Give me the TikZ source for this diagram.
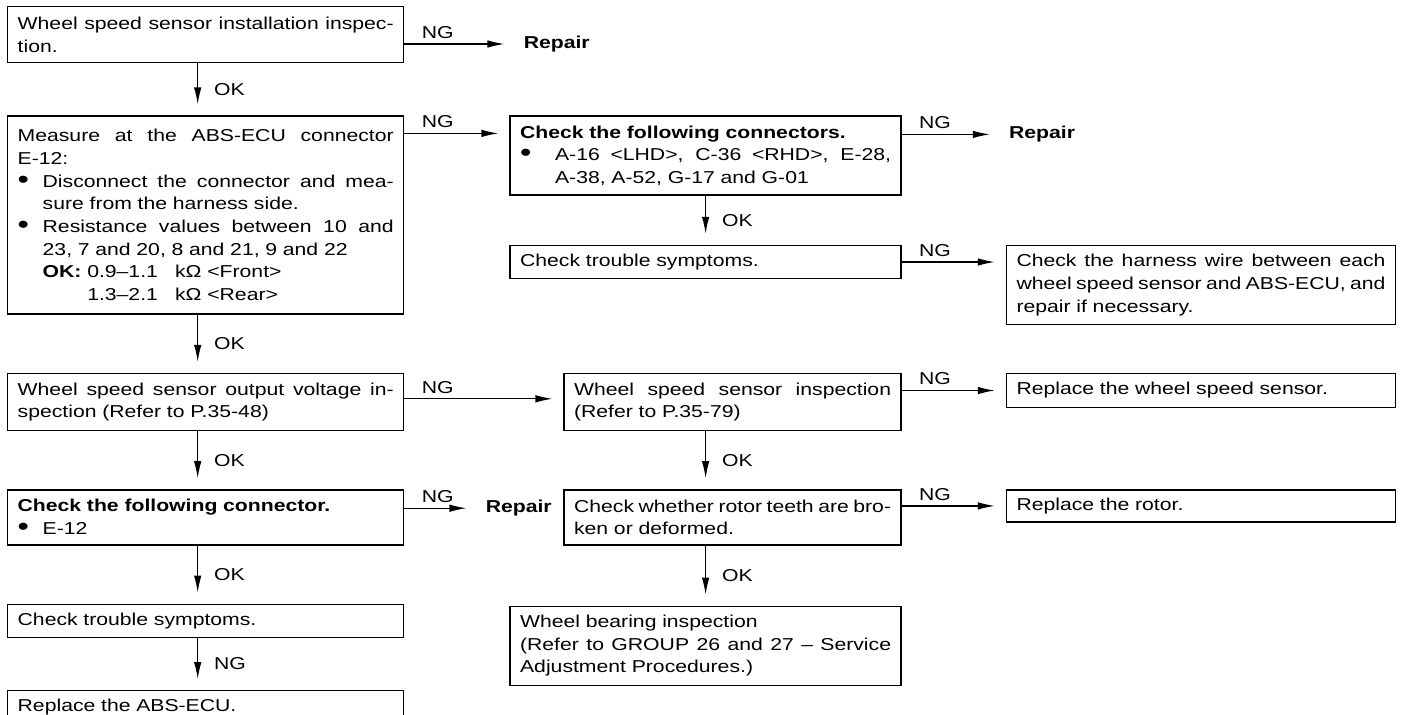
\documentclass[tikz,border=0pt]{standalone}
\usepackage{fontspec}
\setmainfont[FakeStretch=1.23]{Liberation Sans}
\usepackage{tikz}
\usetikzlibrary{arrows.meta, positioning}
\newlength{\bw}
\setlength{\bw}{0.5cm}
\newcommand{\js}{\spaceskip=\fontdimen2\font plus 1fil minus 0.5\fontdimen2\font\relax}
\newcommand{\jl}[1]{\makebox[\hsize][s]{\js #1}}
\newcommand{\bigdot}{\raisebox{-0.6pt}{\fontsize{15}{15}\selectfont\textbullet}}
\newcommand{\bj}[1]{\makebox[\bw][l]{\bigdot}\makebox[\dimexpr\hsize-\bw\relax][s]{\js #1}}
\newcommand{\bl}[1]{\makebox[\bw][l]{\bigdot}#1}

\begin{document}
\begin{tikzpicture}[
    >={Latex[length=3.4mm, width=1.5mm]},
    every node/.style={font=\fontsize{9.8}{12.9}\selectfont},
    box/.style={draw, line width=0.8pt, inner xsep=0.2cm, inner ysep=0pt, align=left},
    lbox/.style={box, text width=7.52cm},
    mbox/.style={box, text width=7.42cm},
    nbox/.style={box, text width=6.34cm},
    rbox/.style={box, text width=7.38cm},
    rep/.style={font=\fontsize{9.8}{12.9}\selectfont\bfseries, inner sep=0pt},
    arr/.style={->, line width=0.7pt, shorten >=0.22cm},
    ok/.style={right, xshift=0.2cm},
    ng/.style={anchor=south west, xshift=0.3cm, yshift=0.06cm, inner sep=1pt},
]
    \useasboundingbox (0,0) rectangle (28.12,-14.30);

    % Left column
    \node[lbox, minimum height=1.12cm, anchor=north west] (insp) at (0.14,-0.12)
        {\jl{Wheel speed sensor installation inspec-}\\tion.};
    \node[lbox, minimum height=3.96cm, below=1.04cm of insp] (meas)
        {\jl{Measure at the ABS-ECU connector}\\
         E-12:\\
         \bj{Disconnect the connector and mea-}\\
         \hspace*{\bw}sure from the harness side.\\
         \bj{Resistance values between 10 and}\\
         \hspace*{\bw}23, 7 and 20, 8 and 21, 9 and 22\\
         \hspace*{\bw}\textbf{OK:} 0.9--1.1\quad kΩ <Front>\\
         \hspace*{\bw}\phantom{\textbf{OK:} }1.3--2.1\quad kΩ <Rear>};
    \node[lbox, minimum height=1.14cm, below=1.16cm of meas] (volt)
        {\jl{Wheel speed sensor output voltage in-}\\spection (Refer to P.35-48)};
    \node[lbox, minimum height=1.10cm, below=1.16cm of volt] (chk)
        {\textbf{Check the following connector.}\\\bl{E-12}};
    \node[lbox, minimum height=0.66cm, below=1.16cm of chk] (sym) {Check trouble symptoms.};
    \node[lbox, minimum height=0.66cm, below=1.04cm of sym] (ecu) {Replace the ABS-ECU.};

    % Middle column
    \node[mbox, minimum height=1.58cm, right=2.10cm of meas.north east, anchor=north west] (conn)
        {\setlength{\bw}{0.7cm}\textbf{Check the following connectors.}\\
         \bj{A-16 <LHD>, C-36 <RHD>, E-28,}\\
         \hspace*{\bw}A-38, A-52, G-17 and G-01};
    \node[mbox, minimum height=0.66cm, below=0.98cm of conn] (sym2) {Check trouble symptoms.};
    \node[nbox, minimum height=1.14cm, right=3.18cm of volt.north east, anchor=north west] (sens)
        {\jl{Wheel speed sensor inspection}\\(Refer to P.35-79)};
    \node[nbox, minimum height=1.10cm, below=1.16cm of sens] (rotor)
        {\jl{Check whether rotor teeth are bro-}\\ken or deformed.};
    \node[mbox, minimum height=1.58cm, below=1.20cm of rotor.south east, anchor=north east] (bear)
        {Wheel bearing inspection\\
         \jl{(Refer to GROUP 26 and 27 -- Service}\\
         Adjustment Procedures.)};

    % Right column
    \node[rbox, minimum height=1.58cm, right=2.08cm of sym2.north east, anchor=north west] (harn)
        {\jl{Check the harness wire between each}\\
         \jl{wheel speed sensor and ABS-ECU, and}\\
         repair if necessary.};
    \node[rbox, minimum height=0.68cm, right=2.08cm of sens.north east, anchor=north west] (newsen)
        {Replace the wheel speed sensor.};
    \node[rbox, minimum height=0.64cm, right=2.08cm of rotor.north east, anchor=north west] (newrot)
        {Replace the rotor.};

    % Repair
    \node[rep, right=2.38cm of insp.north east, yshift=-0.76cm] (rep1) {Repair};
    \node[rep, right=2.14cm of conn.north east, yshift=-0.38cm] (rep2) {Repair};
    \node[rep, right=1.62cm of chk.north east, yshift=-0.38cm] (rep3) {Repair};

    % OK arrows
    \draw[arr] ([xshift=-0.16cm]insp.south) -- node[ok] {OK} ([xshift=-0.16cm]meas.north);
    \draw[arr] ([xshift=-0.16cm]meas.south) -- node[ok] {OK} ([xshift=-0.16cm]volt.north);
    \draw[arr] ([xshift=-0.16cm]volt.south) -- node[ok] {OK} ([xshift=-0.16cm]chk.north);
    \draw[arr] ([xshift=-0.16cm]chk.south) -- node[ok] {OK} ([xshift=-0.16cm]sym.north);
    \draw[arr] ([xshift=-0.16cm]sym.south) -- node[ok] {NG} ([xshift=-0.16cm]ecu.north);
    \draw[arr] (conn.south) -- node[ok] {OK} (sym2.north);
    \draw[arr] (sens.south -| bear) -- node[ok] {OK} (rotor.north -| bear);
    \draw[arr] (rotor.south -| bear) -- node[ok] {OK} (bear.north);

    % NG arrows
    \draw[arr, shorten >=0.38cm] (insp.east |- rep1) node[ng] {NG} -- (rep1);
    \draw[arr] ([yshift=-0.36cm]meas.north east) node[ng] {NG} -- ([yshift=-0.36cm]conn.north west);
    \draw[arr, shorten >=0.38cm] (conn.east |- rep2) node[ng] {NG} -- (rep2);
    \draw[arr] (sym2.east) node[ng] {NG} -- (sym2.east -| harn.west);
    \draw[arr] ([yshift=-0.52cm]volt.north east) node[ng] {NG} -- ([yshift=-0.52cm]sens.north west);
    \draw[arr] (sens.east |- newsen.west) node[ng] {NG} -- (newsen.west);
    \draw[arr, shorten >=0.38cm] (chk.east |- rep3) node[ng] {NG} -- (rep3);
    \draw[arr] (rotor.east |- newrot.west) node[ng] {NG} -- (newrot.west);
\end{tikzpicture}
\end{document}
